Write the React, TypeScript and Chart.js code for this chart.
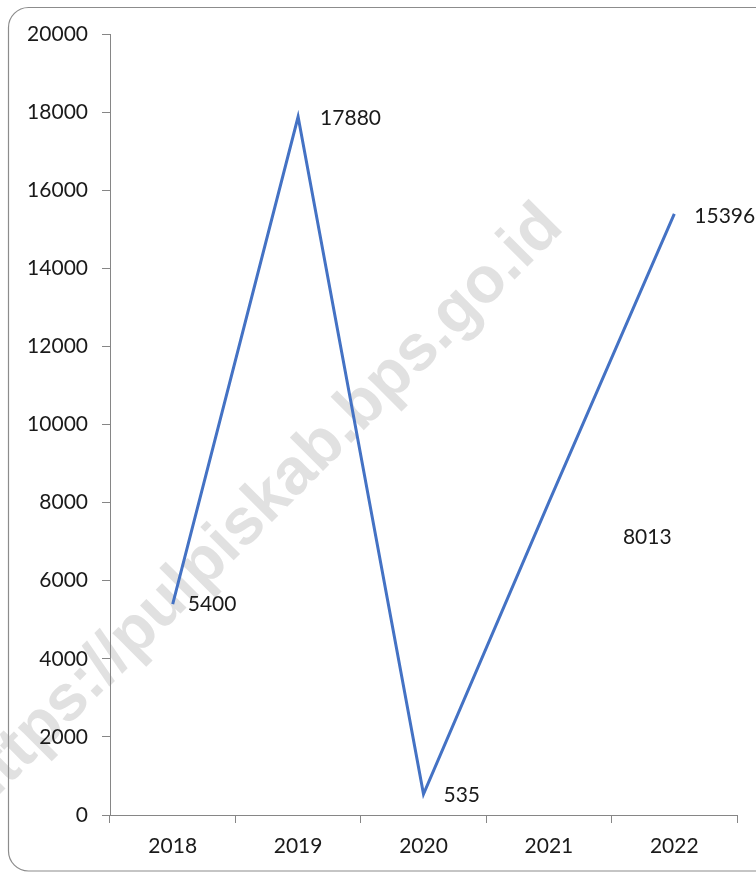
import React, { useEffect, useRef } from "react";
import { Chart, registerables } from "chart.js";

Chart.register(...registerables);

const years = ["2018", "2019", "2020", "2021", "2022"];
const values = [5400, 17880, 535, 8013, 15396];
const valueLabels = ["5400", "17880", "535", "8013", "15396"];
const yTicks = [0, 2000, 4000, 6000, 8000, 10000, 12000, 14000, 16000, 18000, 20000];
const watermarkText = "https://pulpiskab.bps.go.id";

const FONT = "Lato, 'Open Sans', sans-serif";
const LABEL_OFFSETS: [number, number][] = [
  [15, 0],
  [22, 1],
  [20, 1],
  [74, 35],
  [20, 2],
];

const framePlugin = {
  id: "frame",
  beforeDraw(chart: any) {
    const ctx = chart.ctx;
    ctx.save();
    // watermark
    ctx.translate(565, 229);
    ctx.rotate(-Math.PI / 4);
    ctx.font = "bold 65px 'Liberation Sans', Arial, sans-serif";
    ctx.fillStyle = "#e1e1e1";
    ctx.textAlign = "right";
    ctx.textBaseline = "alphabetic";
    ctx.fillText(watermarkText, 0, 0);
    ctx.restore();

    ctx.save();
    const x = 8.5, y = 7.5, w = 770, h = 863.5, r = 20;
    ctx.beginPath();
    ctx.moveTo(x + r, y);
    ctx.lineTo(x + w - r, y);
    ctx.arcTo(x + w, y, x + w, y + r, r);
    ctx.lineTo(x + w, y + h - r);
    ctx.arcTo(x + w, y + h, x + w - r, y + h, r);
    ctx.lineTo(x + r, y + h);
    ctx.arcTo(x, y + h, x, y + h - r, r);
    ctx.lineTo(x, y + r);
    ctx.arcTo(x, y, x + r, y, r);
    ctx.closePath();
    ctx.strokeStyle = "#8c8c8c";
    ctx.lineWidth = 1.2;
    ctx.stroke();
    ctx.restore();
  },
};

const labelPlugin = {
  id: "valueLabels",
  afterDatasetsDraw(chart: any) {
    const ctx = chart.ctx;
    const meta = chart.getDatasetMeta(0);
    ctx.save();
    ctx.font = `21px ${FONT}`;
    ctx.fillStyle = "#1a1a1a";
    ctx.textAlign = "left";
    ctx.textBaseline = "middle";
    meta.data.forEach((pt: any, i: number) => {
      const [dx, dy] = LABEL_OFFSETS[i];
      ctx.fillText(valueLabels[i], pt.x + dx, pt.y + dy);
    });
    ctx.restore();
  },
};

export default function App() {
  const ref = useRef<HTMLCanvasElement>(null);
  useEffect(() => {
    if (!ref.current) return;
    const chart = new Chart(ref.current, {
      type: "line",
      data: {
        labels: years,
        datasets: [
          {
            data: values,
            borderColor: "#4472C4",
            borderWidth: 3,
            pointRadius: 0,
            pointHoverRadius: 0,
            tension: 0,
            fill: false,
          },
        ],
      },
      options: {
        responsive: false,
        animation: false,
        events: [],
        layout: { padding: { left: 0, right: 19, top: 34, bottom: 0 } },
        plugins: {
          legend: { display: false },
          tooltip: { enabled: false },
          title: { display: false },
        },
        scales: {
          x: {
            type: "category",
            offset: true,
            grid: {
              offset: true,
              drawOnChartArea: false,
              drawTicks: true,
              tickLength: 8,
              color: "#868686",
            },
            border: { color: "#868686", width: 1 },
            ticks: {
              font: { family: FONT, size: 21 },
              color: "#1a1a1a",
              padding: 11,
              maxRotation: 0,
            },
            afterFit(scale: any) {
              scale.height = 58;
            },
          },
          y: {
            min: 0,
            max: 20000,
            afterBuildTicks(scale: any) {
              scale.ticks = yTicks.map((v) => ({ value: v }));
            },
            grid: {
              drawOnChartArea: false,
              drawTicks: true,
              tickLength: 8,
              color: "#868686",
            },
            border: { color: "#868686", width: 1 },
            ticks: {
              font: { family: FONT, size: 21 },
              color: "#1a1a1a",
              padding: 14,
              callback: (v: any) => String(v),
            },
            afterFit(scale: any) {
              scale.width = 110;
            },
          },
        },
      },
      plugins: [framePlugin, labelPlugin],
    });
    return () => chart.destroy();
  }, []);
  return (
    <div style={{ position: "absolute", left: 0, top: 0, width: 756, height: 873, overflow: "hidden", background: "#fff" }}>
      <canvas ref={ref} width={756} height={873} style={{ display: "block" }} />
    </div>
  );
}
